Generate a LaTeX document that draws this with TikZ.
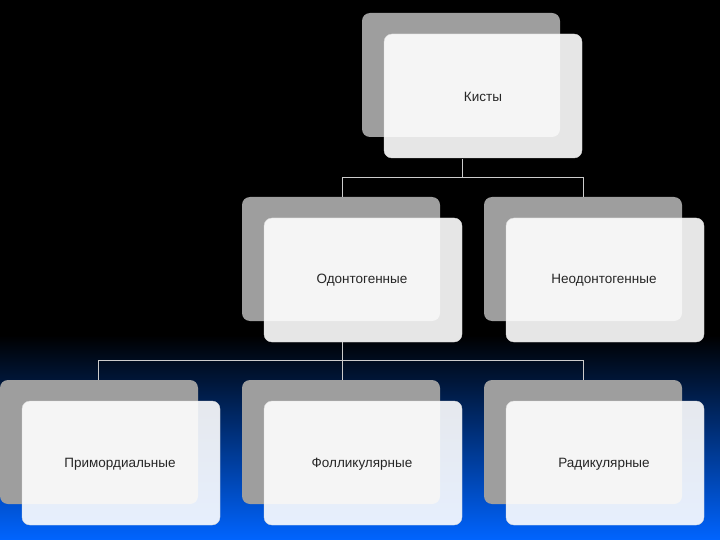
\documentclass[tikz,border=0pt]{standalone}
\usepackage{fontspec}
\setmainfont{Liberation Sans}
\begin{document}
\begin{tikzpicture}[x=1pt,y=-1pt,
 back/.style={fill=black!38,rounded corners=8pt},
 front/.style={fill=white,fill opacity=0.9,draw=black!15,rounded corners=8pt},
 lab/.style={font=\fontsize{13.5}{16}\selectfont,text=black!85},
 con/.style={draw=black!20,line width=1pt}]
\fill[black] (0,0) rectangle (720,540);
\shade[top color=black,bottom color={rgb,255:red,0;green,100;blue,255}] (0,335) rectangle (720,540);
\useasboundingbox (0,0) rectangle (720,540);
% boxes
\newcommand\mybox[3]{%
 \fill[back] (#1,#2) rectangle ++(198,124);
 \filldraw[front] (#1+22,#2+21) rectangle ++(198,124);}
\mybox{362}{13}{}
\mybox{242}{197}{}
\mybox{484}{197}{}
\mybox{0}{380}{}
\mybox{242}{380}{}
\mybox{484}{380}{}
\node[lab] (k) at (483,97) {Кисты};
\node[lab] (o) at (362,280) {Одонтогенные};
\node[lab] (n) at (604,280) {Неодонтогенные};
\node[lab] (p) at (120,464) {Примордиальные};
\node[lab] (f) at (362,464) {Фолликулярные};
\node[lab] (r) at (604,464) {Радикулярные};
\coordinate (kb) at (462,159);
\coordinate (ot) at (342,197);
\coordinate (nt) at (583,197);
\coordinate (ob) at (342,342);
\coordinate (pt) at (98,380);
\coordinate (ft) at (342,380);
\coordinate (rt) at (583,380);
\draw[con] (kb) -- (462,178) -| (ot);
\draw[con] (462,178) -| (nt);
\draw[con] (ob) -- (342,360) -| (pt);
\draw[con] (342,360) -- (ft);
\draw[con] (342,360) -| (rt);
\end{tikzpicture}
\end{document}
